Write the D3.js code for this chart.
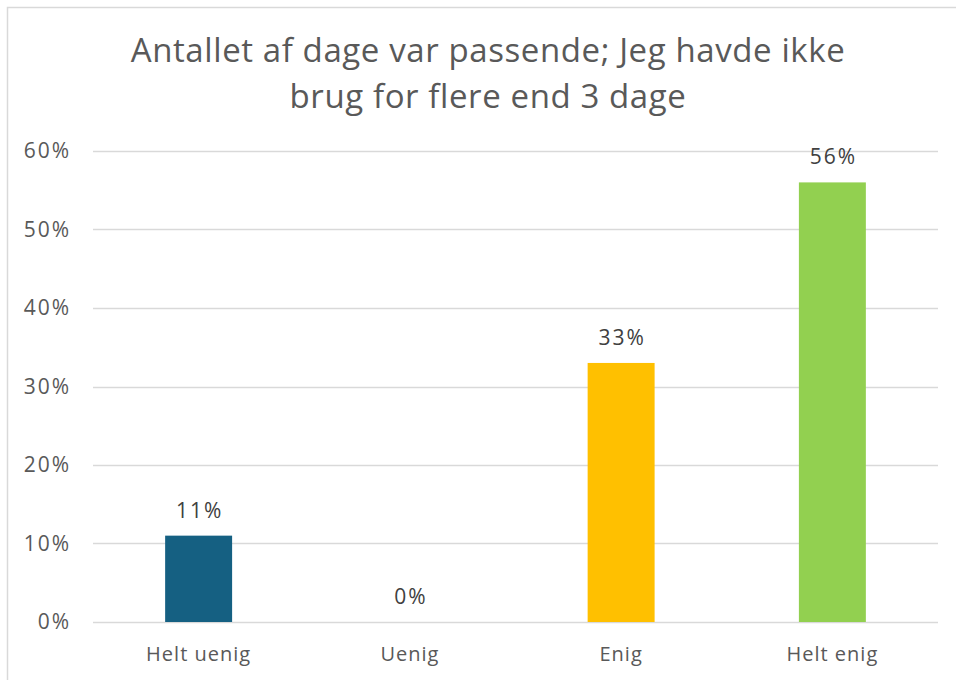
<!DOCTYPE html>
<html>
<head>
<meta charset="utf-8">
<script src="https://d3js.org/d3.v7.min.js"></script>
<style>
  body { margin: 0; background: #fff; }
  text { font-family: "Open Sans", sans-serif; }
</style>
</head>
<body>
<div id="graph"></div>
<script>

// data
var categories = ["Helt uenig", "Uenig", "Enig", "Helt enig"];
var values = [0.11, 0.00, 0.33, 0.56];
var colors = ["#156082", "#4472c4", "#ffc000", "#92d050"];
var yTicks = [0, 0.1, 0.2, 0.3, 0.4, 0.5, 0.6];
var titleLines = ["Antallet af dage var passende; Jeg havde ikke", "brug for flere end 3 dage"];

var W = 956, H = 680;
var margin = {top: 151, right: 18, bottom: 58, left: 93};
var width = W - margin.left - margin.right,
    height = H - margin.top - margin.bottom;

var svg = d3.select("#graph")
  .append("svg")
    .attr("width", W)
    .attr("height", H);

// chart frame (runs off the right/bottom edge)
svg.append("rect")
  .attr("x", 7.5).attr("y", 7.5)
  .attr("width", W + 20).attr("height", H + 20)
  .attr("fill", "#fff")
  .attr("stroke", "#d9d9d9")
  .attr("stroke-width", 1.5);

// title
svg.append("text")
  .attr("x", 488)
  .attr("y", 62)
  .attr("text-anchor", "middle")
  .attr("font-size", "33px")
  .attr("letter-spacing", "0.6px")
  .attr("fill", "#595959")
  .selectAll("tspan")
  .data(titleLines)
  .enter()
  .append("tspan")
    .attr("x", 488)
    .attr("dy", function(d, i) { return i === 0 ? 0 : 46; })
    .text(function(d) { return d; });

var g = svg.append("g")
  .attr("transform", "translate(" + margin.left + "," + margin.top + ")");

var x = d3.scaleBand()
  .domain(categories)
  .range([0, width])
  .paddingInner(0.683)
  .paddingOuter(0.3415);

var y = d3.scaleLinear()
  .domain([0, 0.6])
  .range([height, 0]);

// gridlines
g.append("g")
  .selectAll("line")
  .data(yTicks)
  .enter()
  .append("line")
    .attr("x1", 0)
    .attr("x2", width)
    .attr("y1", function(d) { return Math.round(y(d)) + 0.5; })
    .attr("y2", function(d) { return Math.round(y(d)) + 0.5; })
    .attr("stroke", "#d9d9d9")
    .attr("stroke-width", 1.5);

// y axis labels
var yAxis = g.append("g")
  .call(d3.axisLeft(y).tickValues(yTicks).tickFormat(d3.format(".0%")).tickSize(0).tickPadding(22));
yAxis.select(".domain").remove();
yAxis.selectAll("text")
  .attr("font-family", "Open Sans, sans-serif")
  .attr("font-size", "21px")
  .attr("letter-spacing", "2px")
  .attr("fill", "#595959");

// bars
g.append("g")
  .selectAll("rect")
  .data(values)
  .enter()
  .append("rect")
    .attr("x", function(d, i) { return x(categories[i]); })
    .attr("y", function(d) { return y(d); })
    .attr("width", x.bandwidth())
    .attr("height", function(d) { return height - y(d); })
    .attr("fill", function(d, i) { return colors[i]; });

// data labels
g.append("g")
  .selectAll("text")
  .data(values)
  .enter()
  .append("text")
    .attr("x", function(d, i) { return x(categories[i]) + x.bandwidth() / 2 + 1; })
    .attr("y", function(d) { return y(d) - 18; })
    .attr("text-anchor", "middle")
    .attr("font-size", "21px")
    .attr("letter-spacing", "2px")
    .attr("fill", "#404040")
    .text(function(d) { return d3.format(".0%")(d); });

// x axis labels
var xAxis = g.append("g")
  .attr("transform", "translate(0," + height + ")")
  .call(d3.axisBottom(x).tickSize(0).tickPadding(25));
xAxis.select(".domain").remove();
xAxis.selectAll("text")
  .attr("font-family", "Open Sans, sans-serif")
  .attr("font-size", "20px")
  .attr("letter-spacing", "1px")
  .attr("fill", "#595959");

</script>
</body>
</html>
